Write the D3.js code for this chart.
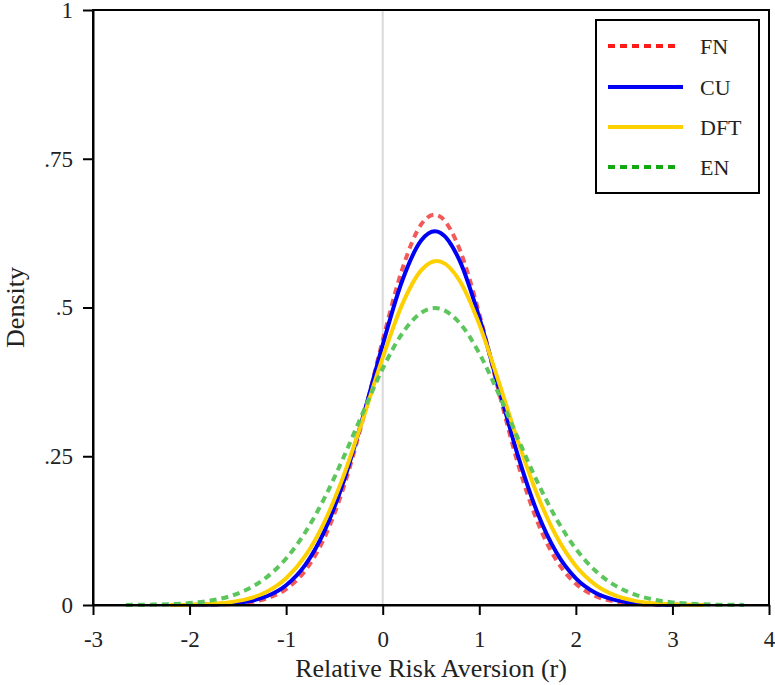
<!DOCTYPE html>
<html>
<head>
<meta charset="utf-8">
<script src="https://cdn.jsdelivr.net/npm/d3@7"></script>
<style>
  html, body { margin: 0; padding: 0; background: #fff; }
  svg { display: block; font-family: "Liberation Serif", "Times New Roman", serif; }
</style>
</head>
<body>
<svg id="chart" width="775" height="685"></svg>
<script>
// Estimated densities of relative risk aversion under four models
const fnX = [-1.9,-1.8,-1.6,-1.4,-1.2,-1.0,-0.8,-0.6,-0.4,-0.2,0,0.2,0.4,0.535,0.6,0.8,1.0,1.2,1.4,1.6,1.8,2.0,2.2,2.4,2.6,2.8,3.0];
const fnY = [0.0002,0.0004,0.0014,0.0041,0.0110,0.0268,0.0584,0.1142,0.2003,0.3151,0.4448,0.5633,0.6400,0.656,0.6522,0.5964,0.4892,0.3600,0.2377,0.1408,0.0748,0.0356,0.0152,0.0059,0.0020,0.0006,0.0002];

const cuX = [-2.0,-1.8,-1.6,-1.4,-1.2,-1.0,-0.8,-0.6,-0.4,-0.2,0,0.2,0.4,0.54,0.6,0.8,1.0,1.2,1.4,1.6,1.8,2.0,2.2,2.4,2.6,2.8,3.0,3.08];
const cuY = [0.0002,0.0007,0.0021,0.0059,0.0147,0.0332,0.0678,0.1254,0.2100,0.3185,0.4375,0.5442,0.6129,0.628,0.6252,0.5775,0.4831,0.3659,0.2510,0.1559,0.0877,0.0447,0.0206,0.0086,0.0033,0.0011,0.0003,0.0002];

const dftX = [-2.2,-2.0,-1.8,-1.6,-1.4,-1.2,-1.0,-0.8,-0.6,-0.4,-0.2,0,0.2,0.4,0.56,0.6,0.8,1.0,1.2,1.4,1.6,1.8,2.0,2.2,2.4,2.6,2.8,3.0,3.2,3.32];
const dftY = [0.0002,0.0006,0.0017,0.0043,0.0102,0.0223,0.0449,0.0829,0.1407,0.2196,0.3151,0.4158,0.5045,0.5627,0.578,0.5770,0.5441,0.4716,0.3759,0.2755,0.1856,0.1150,0.0655,0.0343,0.0165,0.0073,0.0030,0.0011,0.0004,0.0002];

const enX = [-2.66,-2.4,-2.2,-2.0,-1.8,-1.6,-1.4,-1.2,-1.0,-0.8,-0.6,-0.4,-0.2,0,0.2,0.4,0.54,0.6,0.8,1.0,1.2,1.4,1.6,1.8,2.0,2.2,2.4,2.6,2.8,3.0,3.2,3.4,3.6,3.74];
const enY = [0.0002,0.0006,0.0014,0.0032,0.0069,0.0139,0.0264,0.0469,0.0782,0.1227,0.1808,0.2502,0.3253,0.3974,0.4559,0.4914,0.499,0.4976,0.4733,0.4230,0.3551,0.2800,0.2074,0.1444,0.0944,0.0580,0.0334,0.0181,0.0092,0.0044,0.0020,0.0008,0.0003,0.0002];

const seriesNames = ["FN", "CU", "DFT", "EN"];
const xTicks = [-3, -2, -1, 0, 1, 2, 3, 4];
const xTickLabels = ["-3", "-2", "-1", "0", "1", "2", "3", "4"];
const yTicks = [0, 0.25, 0.5, 0.75, 1];
const yTickLabels = ["0", ".25", ".5", ".75", "1"];

const svg = d3.select("#chart");
const margin = { top: 10, right: 6, bottom: 80, left: 93 };
const W = 775, H = 685;

const x = d3.scaleLinear().domain([-3, 4]).range([margin.left, W - margin.right]);
const y = d3.scaleLinear().domain([0, 1]).range([H - margin.bottom, margin.top]);

// vertical reference line at r = 0
svg.append("line")
  .attr("x1", x(0)).attr("x2", x(0))
  .attr("y1", y(0)).attr("y2", y(1))
  .attr("stroke", "#d9d9d9").attr("stroke-width", 2);

const styles = [
  { name: seriesNames[0], xs: fnX, ys: fnY, color: "#f25a5a", key: "#ff1a1a", dash: "7,5" },
  { name: seriesNames[1], xs: cuX, ys: cuY, color: "#0000f5", key: "#0000f5", dash: null },
  { name: seriesNames[2], xs: dftX, ys: dftY, color: "#ffd000", key: "#ffd000", dash: null },
  { name: seriesNames[3], xs: enX, ys: enY, color: "#5cc65c", key: "#10aa10", dash: "7,5" }
];

const line = d3.line()
  .x(d => x(d[0]))
  .y(d => y(d[1]))
  .curve(d3.curveMonotoneX);

styles.forEach(s => {
  const pts = s.xs.map((v, i) => [v, s.ys[i]]);
  svg.append("path")
    .datum(pts)
    .attr("d", line)
    .attr("fill", "none")
    .attr("stroke", s.color)
    .attr("stroke-width", 4)
    .attr("stroke-dasharray", s.dash);
});

// frame round the plot area
svg.append("rect")
  .attr("x", x(-3)).attr("y", y(1))
  .attr("width", x(4) - x(-3)).attr("height", y(0) - y(1))
  .attr("fill", "none").attr("stroke", "#000").attr("stroke-width", 2);

// axes
const xAxis = d3.axisBottom(x)
  .tickValues(xTicks)
  .tickFormat((d, i) => xTickLabels[i])
  .tickSize(10).tickSizeOuter(0).tickPadding(16);
const gx = svg.append("g").attr("transform", `translate(0,${y(0)})`).call(xAxis);

const yAxis = d3.axisLeft(y)
  .tickValues(yTicks)
  .tickFormat((d, i) => yTickLabels[i])
  .tickSize(10).tickSizeOuter(0).tickPadding(10);
const gy = svg.append("g").attr("transform", `translate(${x(-3)},0)`).call(yAxis);

[gx, gy].forEach(g => {
  g.select(".domain").attr("stroke", "#000").attr("stroke-width", 2);
  g.selectAll(".tick line").attr("stroke", "#000").attr("stroke-width", 2);
  g.selectAll(".tick text")
    .attr("fill", "#222")
    .style("font-family", "'Liberation Serif', serif")
    .style("font-size", "23px");
});

// axis titles
svg.append("text")
  .attr("x", (x(-3) + x(4)) / 2)
  .attr("y", 677)
  .attr("text-anchor", "middle")
  .attr("fill", "#222")
  .style("font-size", "26px")
  .text("Relative Risk Aversion (r)");

svg.append("text")
  .attr("transform", `translate(24,${(y(0) + y(1)) / 2}) rotate(-90)`)
  .attr("text-anchor", "middle")
  .attr("fill", "#222")
  .style("font-size", "26px")
  .text("Density");

// legend
const lg = svg.append("g");
lg.append("rect")
  .attr("x", 596).attr("y", 20)
  .attr("width", 163).attr("height", 173)
  .attr("fill", "#fff").attr("stroke", "#000").attr("stroke-width", 2);

const rowY = [46, 87, 127, 167];
styles.forEach((s, i) => {
  lg.append("line")
    .attr("x1", 608).attr("x2", s.dash ? 677 : 683)
    .attr("y1", rowY[i]).attr("y2", rowY[i])
    .attr("stroke", s.key)
    .attr("stroke-width", 4)
    .attr("stroke-dasharray", s.dash);
  lg.append("text")
    .attr("x", 700).attr("y", rowY[i] + 8)
    .attr("fill", "#222")
    .style("font-size", "22px")
    .text(s.name);
});
</script>
</body>
</html>
